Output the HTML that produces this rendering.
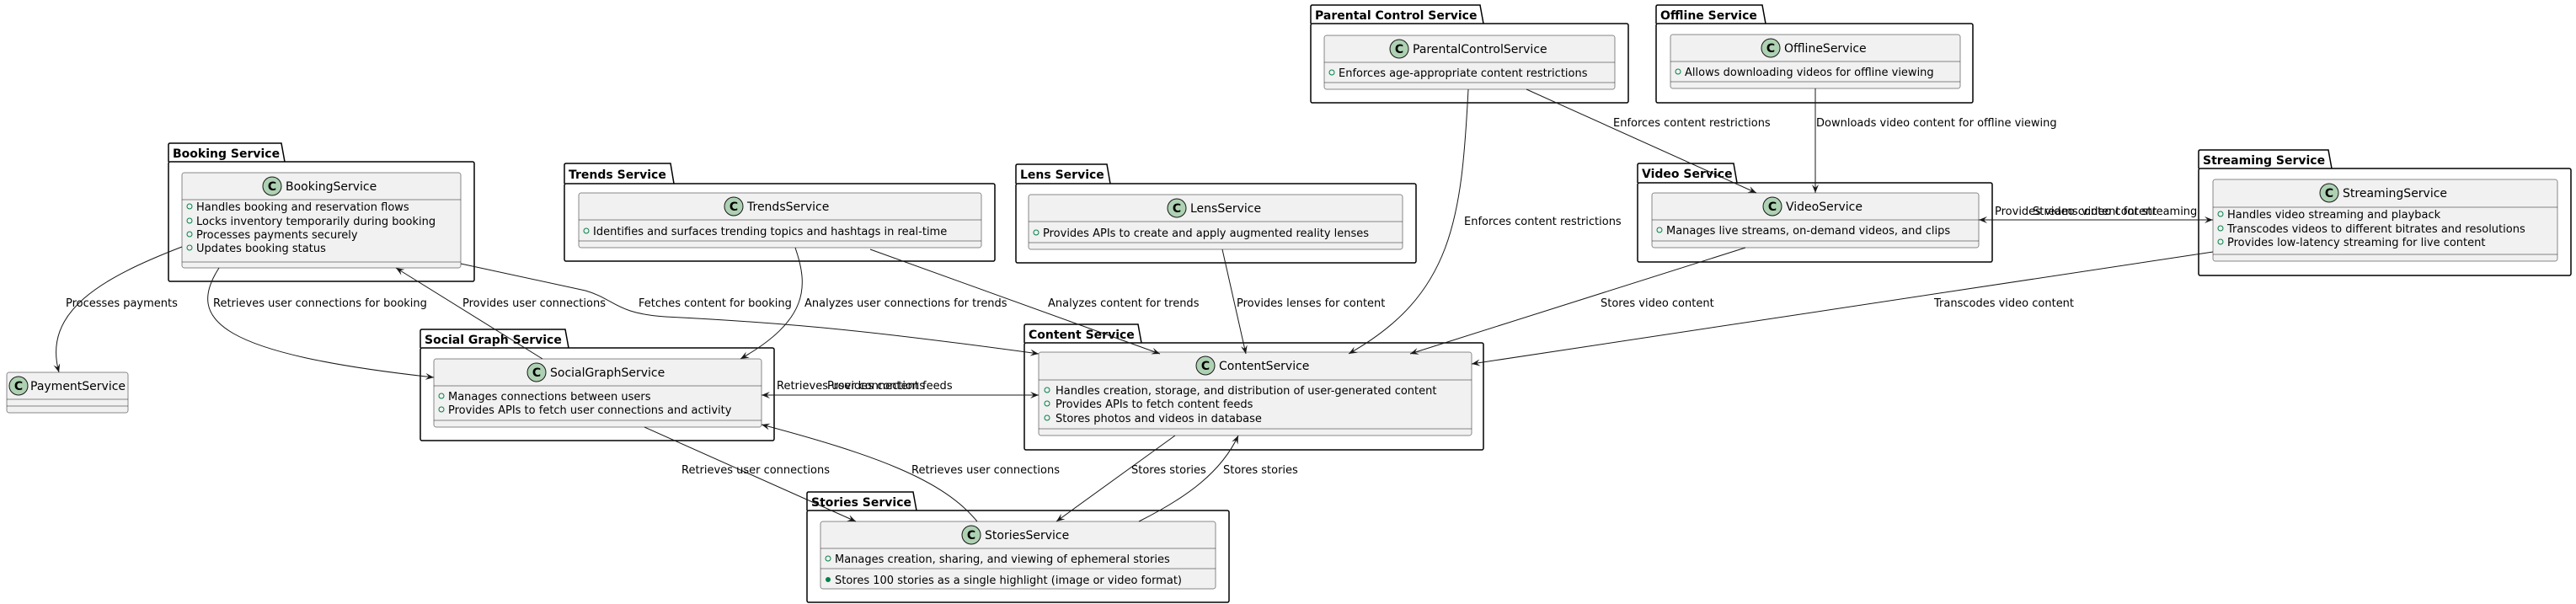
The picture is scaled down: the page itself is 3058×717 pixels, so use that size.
<!DOCTYPE html>
<html><head><meta charset="utf-8"><style>
html,body{margin:0;padding:0;background:#fff;}
svg{display:block;}
text{font-family:"DejaVu Sans","Liberation Sans",sans-serif;fill:#000;}
.pk{fill:#fff;stroke:#000;stroke-width:1.5;}
.cl{fill:#F1F1F1;stroke:#181818;stroke-width:0.5;}
.sep{stroke:#181818;stroke-width:0.5;}
.ed{fill:none;stroke:#181818;stroke-width:1;}
.pt{font-weight:bold;font-size:14px;}
.cn{font-size:14px;}
.mb{font-size:13px;}
.lb{font-size:13px;}
.ic{fill:#ADD1B2;stroke:#181818;stroke-width:1;}
.mo{fill:none;stroke:#038048;stroke-width:1;}
</style></head><body>
<svg width="3058" height="717" viewBox="0 0 3058 717" xmlns="http://www.w3.org/2000/svg">
<defs>
<marker id="a" viewBox="0 0 10 8" refX="10" refY="4" markerWidth="10" markerHeight="8" orient="auto" markerUnits="userSpaceOnUse"><path d="M0,0 L10,4 L0,8 L4,4 Z" fill="#181818"/></marker>
<marker id="b" viewBox="0 0 10 8" refX="0" refY="4" markerWidth="10" markerHeight="8" orient="auto" markerUnits="userSpaceOnUse"><path d="M10,0 L0,4 L10,8 L6,4 Z" fill="#181818"/></marker>
</defs>

<g>
<path class="pk" d="M200,192 V172 Q200,170 202,170 H334 L338,192"/><rect class="pk" x="200" y="192" width="363" height="142" rx="2"/><text class="pt" x="205" y="187">Booking Service</text>
<path class="pk" d="M670,218 V196 Q670,194 672,194 H796 L800,218"/><rect class="pk" x="670" y="218" width="511" height="92" rx="2"/><text class="pt" x="675" y="212">Trends Service</text>
<path class="pk" d="M1206,218 V197 Q1206,195 1208,195 H1314 L1318,218"/><rect class="pk" x="1206" y="218" width="475" height="94" rx="2"/><text class="pt" x="1211" y="212">Lens Service</text>
<path class="pk" d="M1556,28 V8 Q1556,6 1558,6 H1757 L1761,28"/><rect class="pk" x="1556" y="28" width="377" height="94" rx="2"/><text class="pt" x="1561" y="23">Parental Control Service</text>
<path class="pk" d="M1966,28 V8 Q1966,6 1968,6 H2092 L2096,28"/><rect class="pk" x="1966" y="28" width="376" height="94" rx="2"/><text class="pt" x="1971" y="23">Offline Service</text>
<path class="pk" d="M1944,217 V196 Q1944,194 1946,194 H2058 L2062,217"/><rect class="pk" x="1944" y="217" width="421" height="94" rx="2"/><text class="pt" x="1949" y="211">Video Service</text>
<path class="pk" d="M2610,200 V180 Q2610,178 2612,178 H2764 L2768,200"/><rect class="pk" x="2610" y="200" width="442" height="127" rx="2"/><text class="pt" x="2615" y="195">Streaming Service</text>
<path class="pk" d="M499,413 V393 Q499,391 501,391 H671 L675,413"/><rect class="pk" x="499" y="413" width="420" height="110" rx="2"/><text class="pt" x="504" y="408">Social Graph Service</text>
<path class="pk" d="M1216,407 V387 Q1216,385 1218,385 H1351 L1355,407"/><rect class="pk" x="1216" y="407" width="545" height="127" rx="2"/><text class="pt" x="1221" y="402">Content Service</text>
<path class="pk" d="M958,606 V586 Q958,584 960,584 H1084 L1088,606"/><rect class="pk" x="958" y="606" width="501" height="109" rx="2"/><text class="pt" x="963" y="601">Stories Service</text>
</g>

<rect class="cl" x="216" y="205" width="331" height="113" rx="2.5"/>
<line class="sep" x1="216" y1="237" x2="547" y2="237"/><line class="sep" x1="216" y1="311" x2="547" y2="311"/>
<circle class="ic" cx="323" cy="221" r="11"/><text x="323" y="226" text-anchor="middle" style="font-weight:bold;font-size:14px">C</text>
<text class="cn" x="339" y="226">BookingService</text>
<g class="mb"><circle class="mo" cx="225" cy="245" r="3"/><text x="233" y="250">Handles booking and reservation flows</text>
<circle class="mo" cx="225" cy="262" r="3"/><text x="233" y="267">Locks inventory temporarily during booking</text>
<circle class="mo" cx="225" cy="278" r="3"/><text x="233" y="283">Processes payments securely</text>
<circle class="mo" cx="225" cy="294" r="3"/><text x="233" y="299">Updates booking status</text></g>

<rect class="cl" x="8" y="442" width="144" height="48" rx="2.5"/>
<line class="sep" x1="8" y1="474" x2="152" y2="474"/><line class="sep" x1="8" y1="482" x2="152" y2="482"/>
<circle class="ic" cx="22" cy="458" r="11"/><text x="22" y="463" text-anchor="middle" style="font-weight:bold;font-size:14px">C</text>
<text class="cn" x="36" y="463">PaymentService</text>

<rect class="cl" x="687" y="229" width="478" height="65" rx="2.5"/>
<line class="sep" x1="687" y1="261" x2="1165" y2="261"/><line class="sep" x1="687" y1="286" x2="1165" y2="286"/>
<circle class="ic" cx="871" cy="245" r="11"/><text x="871" y="250" text-anchor="middle" style="font-weight:bold;font-size:14px">C</text>
<text class="cn" x="887" y="250">TrendsService</text>
<circle class="mo" cx="696" cy="274" r="3"/><text class="mb" x="704" y="279">Identifies and surfaces trending topics and hashtags in real-time</text>

<rect class="cl" x="1221" y="231" width="444" height="65" rx="2.5"/>
<line class="sep" x1="1221" y1="263" x2="1665" y2="263"/><line class="sep" x1="1221" y1="288" x2="1665" y2="288"/>
<circle class="ic" cx="1397" cy="247" r="11"/><text x="1397" y="252" text-anchor="middle" style="font-weight:bold;font-size:14px">C</text>
<text class="cn" x="1413" y="252">LensService</text>
<circle class="mo" cx="1230" cy="276" r="3"/><text class="mb" x="1238" y="281">Provides APIs to create and apply augmented reality lenses</text>

<rect class="cl" x="1572" y="42" width="345" height="64" rx="2.5"/>
<line class="sep" x1="1572" y1="74" x2="1917" y2="74"/><line class="sep" x1="1572" y1="98" x2="1917" y2="98"/>
<circle class="ic" cx="1661" cy="58" r="11"/><text x="1661" y="63" text-anchor="middle" style="font-weight:bold;font-size:14px">C</text>
<text class="cn" x="1677" y="63">ParentalControlService</text>
<circle class="mo" cx="1581" cy="86" r="3"/><text class="mb" x="1589" y="91">Enforces age-appropriate content restrictions</text>

<rect class="cl" x="1983" y="41" width="344" height="64" rx="2.5"/>
<line class="sep" x1="1983" y1="73" x2="2327" y2="73"/><line class="sep" x1="1983" y1="97" x2="2327" y2="97"/>
<circle class="ic" cx="2102" cy="57" r="11"/><text x="2102" y="62" text-anchor="middle" style="font-weight:bold;font-size:14px">C</text>
<text class="cn" x="2118" y="62">OfflineService</text>
<circle class="mo" cx="1992" cy="85" r="3"/><text class="mb" x="2000" y="90">Allows downloading videos for offline viewing</text>

<rect class="cl" x="1961" y="229" width="388" height="65" rx="2.5"/>
<line class="sep" x1="1961" y1="261" x2="2349" y2="261"/><line class="sep" x1="1961" y1="286" x2="2349" y2="286"/>
<circle class="ic" cx="2104" cy="245" r="11"/><text x="2104" y="250" text-anchor="middle" style="font-weight:bold;font-size:14px">C</text>
<text class="cn" x="2120" y="250">VideoService</text>
<circle class="mo" cx="1970" cy="273" r="3"/><text class="mb" x="1978" y="278">Manages live streams, on-demand videos, and clips</text>

<rect class="cl" x="2627" y="213" width="409" height="97" rx="2.5"/>
<line class="sep" x1="2627" y1="246" x2="3036" y2="246"/><line class="sep" x1="2627" y1="302" x2="3036" y2="302"/>
<circle class="ic" cx="2765" cy="229" r="11"/><text x="2765" y="234" text-anchor="middle" style="font-weight:bold;font-size:14px">C</text>
<text class="cn" x="2781" y="234">StreamingService</text>
<g class="mb"><circle class="mo" cx="2636" cy="254" r="3"/><text x="2644" y="259">Handles video streaming and playback</text>
<circle class="mo" cx="2636" cy="271" r="3"/><text x="2644" y="276">Transcodes videos to different bitrates and resolutions</text>
<circle class="mo" cx="2636" cy="287" r="3"/><text x="2644" y="292">Provides low-latency streaming for live content</text></g>

<rect class="cl" x="515" y="426" width="389" height="81" rx="2.5"/>
<line class="sep" x1="515" y1="458" x2="904" y2="458"/><line class="sep" x1="515" y1="499" x2="904" y2="499"/>
<circle class="ic" cx="637" cy="442" r="11"/><text x="637" y="447" text-anchor="middle" style="font-weight:bold;font-size:14px">C</text>
<text class="cn" x="653" y="447">SocialGraphService</text>
<g class="mb"><circle class="mo" cx="524" cy="470" r="3"/><text x="532" y="475">Manages connections between users</text>
<circle class="mo" cx="524" cy="486" r="3"/><text x="532" y="491">Provides APIs to fetch user connections and activity</text></g>

<rect class="cl" x="1233" y="418" width="514" height="99" rx="2.5"/>
<line class="sep" x1="1233" y1="451" x2="1747" y2="451"/><line class="sep" x1="1233" y1="509" x2="1747" y2="509"/>
<circle class="ic" cx="1431" cy="434" r="11"/><text x="1431" y="439" text-anchor="middle" style="font-weight:bold;font-size:14px">C</text>
<text class="cn" x="1447" y="439">ContentService</text>
<g class="mb"><circle class="mo" cx="1243" cy="463" r="3"/><text x="1253" y="468">Handles creation, storage, and distribution of user-generated content</text>
<circle class="mo" cx="1243" cy="479" r="3"/><text x="1253" y="484">Provides APIs to fetch content feeds</text>
<circle class="mo" cx="1243" cy="496" r="3"/><text x="1253" y="501">Stores photos and videos in database</text></g>

<rect class="cl" x="974" y="619" width="469" height="80" rx="2.5"/>
<line class="sep" x1="974" y1="651" x2="1443" y2="651"/><line class="sep" x1="974" y1="675" x2="1443" y2="675"/>
<circle class="ic" cx="1153" cy="635" r="11"/><text x="1153" y="640" text-anchor="middle" style="font-weight:bold;font-size:14px">C</text>
<text class="cn" x="1169" y="640">StoriesService</text>
<g class="mb"><circle class="mo" cx="983" cy="663" r="3"/><text x="991" y="668">Manages creation, sharing, and viewing of ephemeral stories</text>
<circle cx="983" cy="688" r="3" fill="#038048"/><text x="991" y="693">Stores 100 stories as a single highlight (image or video format)</text></g>

<path class="ed" marker-end="url(#a)" d="M216,293 C120,330 50,370 70,442"/>
<path class="ed" marker-end="url(#a)" d="M260,318 C220,380 260,420 515,448"/>
<path class="ed" marker-end="url(#a)" d="M644,426 L470,318"/>
<path class="ed" marker-end="url(#a)" d="M547,313 L695,345 C730,355 730,372 790,376 C950,384 1050,395 1233,420"/>
<path class="ed" marker-end="url(#a)" d="M944,294 C960,340 960,380 879,426"/>
<path class="ed" marker-end="url(#a)" d="M1033,296 L1377,420"/>
<path class="ed" marker-end="url(#a)" d="M1451,296 L1479,420"/>
<path class="ed" marker-end="url(#a)" d="M1743,106 C1735,260 1725,350 1601,420"/>
<path class="ed" marker-end="url(#a)" d="M1812,106 L2085,229"/>
<path class="ed" marker-end="url(#a)" d="M2155,105 L2155,229"/>
<path class="ed" marker-end="url(#a)" d="M2072,294 L1674,420"/>
<path class="ed" marker-end="url(#a)" d="M2627,299 L1747,432"/>
<path class="ed" marker-start="url(#b)" marker-end="url(#a)" d="M2349,261 L2627,261"/>
<path class="ed" marker-start="url(#b)" marker-end="url(#a)" d="M904,469 L1233,469"/>
<path class="ed" marker-end="url(#a)" d="M765,507 L1016,619"/>
<path class="ed" marker-end="url(#a)" d="M1160,619 C1120,570 1040,540 904,504"/>
<path class="ed" marker-end="url(#a)" d="M1395,517 L1254,619"/>
<path class="ed" marker-end="url(#a)" d="M1352,619 C1410,590 1450,560 1470,517"/>

<g class="lb">
<text x="78" y="364">Processes payments</text>
<text x="253" y="364">Retrieves user connections for booking</text>
<text x="549" y="364">Provides user connections</text>
<text x="758" y="364">Fetches content for booking</text>
<text x="955" y="364">Analyzes user connections for trends</text>
<text x="1244" y="364">Analyzes content for trends</text>
<text x="1468" y="364">Provides lenses for content</text>
<text x="1738" y="267">Enforces content restrictions</text>
<text x="1915" y="150">Enforces content restrictions</text>
<text x="2156" y="150">Downloads video content for offline viewing</text>
<text x="1900" y="364">Stores video content</text>
<text x="2296" y="364">Transcodes video content</text>
<text x="2368" y="255">Provides video content for streaming</text>
<text x="2413" y="255">Streams video content</text>
<text x="922" y="462">Retrieves user connections</text>
<text x="982" y="462">Provides content feeds</text>
<text x="809" y="562">Retrieves user connections</text>
<text x="1082" y="562">Retrieves user connections</text>
<text x="1343" y="562">Stores stories</text>
<text x="1452" y="562">Stores stories</text>
</g>
</svg>
</body></html>
